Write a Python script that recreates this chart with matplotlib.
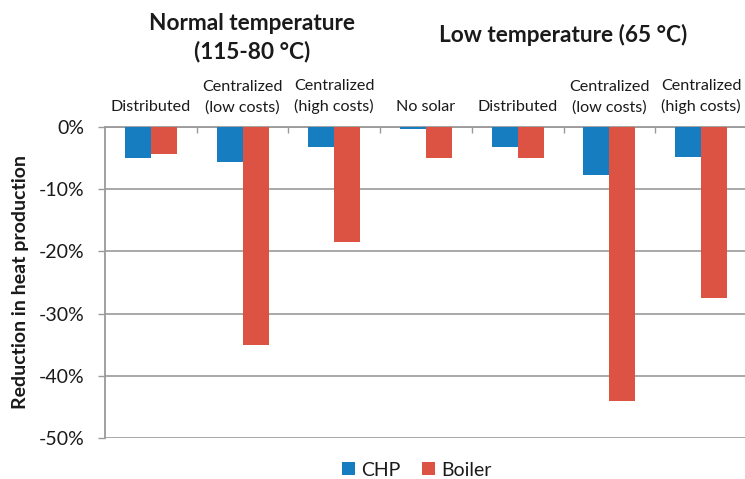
import matplotlib
matplotlib.use("Agg")
import matplotlib.pyplot as plt
import matplotlib.transforms as mtrans
import numpy as np

categories = ["Distributed", "Centralized\n(low costs)", "Centralized\n(high costs)",
              "No solar", "Distributed", "Centralized\n(low costs)", "Centralized\n(high costs)"]
chp = [-5.0, -5.6, -3.2, -0.4, -3.3, -7.8, -4.8]
boiler = [-4.4, -35.0, -18.5, -5.0, -5.0, -44.0, -27.5]
group_titles = ["Normal temperature", "(115-80 °C)", "Low temperature (65 °C)"]
yticks = [0, -10, -20, -30, -40, -50]

BLUE = "#167dc0"
RED = "#dc5344"
GRAY = "#9a9a9a"
TXT = "#1a1a1a"

plt.rcParams['font.family'] = ['Lato', 'DejaVu Sans']

W, H = 745, 479
fig = plt.figure(figsize=(W/100, H/100), dpi=100)
ax = fig.add_axes([105/W, (H-438.3)/H, 642/W, (438.3-126.7)/H])

x = np.arange(len(categories))
w = 0.284
ax.bar(x - w/2, chp, w, color=BLUE, label="CHP", zorder=3)
ax.bar(x + w/2, boiler, w, color=RED, label="Boiler", zorder=3)

ax.set_xlim(-0.5, len(categories) - 0.5)
ax.set_ylim(-50, 0)
ax.set_yticks(yticks)
ax.set_yticklabels([f"{v}%" for v in yticks], fontsize=14, color=TXT)
ax.tick_params(axis='y', length=5, width=1, color=GRAY, pad=10)
ax.yaxis.grid(True, color=GRAY, linewidth=1.2, zorder=0)
ax.set_axisbelow(True)

ax.xaxis.set_ticks_position('top')
ax.set_xticks(np.arange(0.5, len(categories) - 0.5, 1.0))
ax.set_xticklabels([])
ax.tick_params(axis='x', direction='in', length=4.5, width=1, color=GRAY)

for s in ['right', 'bottom']:
    ax.spines[s].set_visible(False)
for s in ['left', 'top']:
    ax.spines[s].set_color(GRAY)
    ax.spines[s].set_linewidth(1.3)

xt = ax.get_xaxis_transform()
for xi, lab in zip(x, categories):
    ax.text(xi, 1.04, lab, transform=xt, ha='center', va='bottom',
            fontsize=11.6, color=TXT, linespacing=1.5)

def fig_y(py):
    return (H - py) / H

blend = mtrans.blended_transform_factory(ax.transData, fig.transFigure)
ax.text(1.1, fig_y(30), group_titles[0], transform=blend, ha='center', va='baseline',
        fontsize=16.3, fontweight='bold', color=TXT)
ax.text(1.1, fig_y(58), group_titles[1], transform=blend, ha='center', va='baseline',
        fontsize=16.3, fontweight='bold', color=TXT)
ax.text(4.5, fig_y(41.5), group_titles[2], transform=blend, ha='center', va='baseline',
        fontsize=16.3, fontweight='bold', color=TXT)

fig.text(20.7/W, fig_y(282), "Reduction in heat production", rotation=90,
         ha='center', va='center', fontsize=14, fontweight='bold', color=TXT)

fig.legend(loc='center', bbox_to_anchor=(417/W, fig_y(470)), ncol=2, frameon=False,
           fontsize=14, handlelength=0.65, handleheight=0.65, handletextpad=0.35,
           columnspacing=1.1, labelcolor=TXT, borderpad=0)

fig.savefig("out.png", dpi=100)
